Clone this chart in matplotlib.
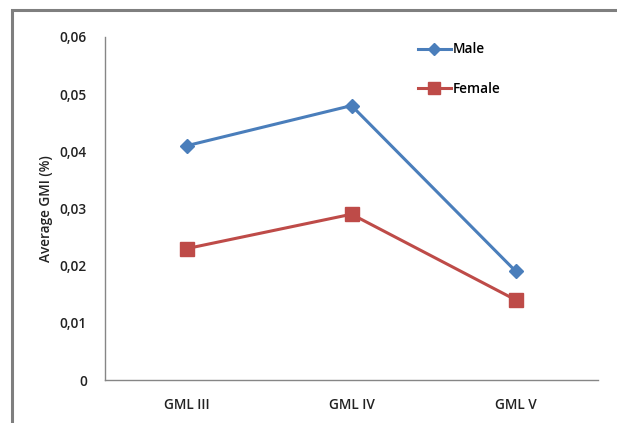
import matplotlib
matplotlib.use("Agg")
import matplotlib.pyplot as plt
from matplotlib.patches import Rectangle

categories = ["GML III", "GML IV", "GML V"]
male = [0.041, 0.048, 0.019]
female = [0.023, 0.029, 0.014]
yticks = [0, 0.01, 0.02, 0.03, 0.04, 0.05, 0.06]
yticklabels = ["0", "0,01", "0,02", "0,03", "0,04", "0,05", "0,06"]

plt.rcParams['font.family'] = ['Open Sans', 'DejaVu Sans']

W, H = 617, 423
fig = plt.figure(figsize=(W/100, H/100), dpi=100)
fig.patch.set_facecolor('white')

# outer frame (left and top visible)
fig.patches.append(Rectangle((12/W, -0.1), 1.2, 1 - 10/H + 0.1, transform=fig.transFigure,
                             fill=False, edgecolor='#7f7f7f', linewidth=2.2))

left, right, top, bottom = 105, 598, 37, 380
ax = fig.add_axes([left/W, 1 - bottom/H, (right-left)/W, (bottom-top)/H])
x = list(range(1, len(categories) + 1))
ax.plot(x, male, color='#4A7EBB', lw=2.2, marker='D', ms=7, label='Male')
ax.plot(x, female, color='#BE4B48', lw=2.2, marker='s', ms=9.5, label='Female')
ax.set_xlim(0.5, 3.5)
ax.set_ylim(0, 0.06)
ax.set_yticks(yticks)
ax.set_yticklabels(yticklabels)
ax.set_xticks(x)
ax.set_xticklabels(categories)
for s in ['top', 'right']:
    ax.spines[s].set_visible(False)
for s in ['left', 'bottom']:
    ax.spines[s].set_color('#868686')
    ax.spines[s].set_linewidth(1)
fs = 9.8
ax.tick_params(axis='both', length=0, labelsize=fs, colors='#222222')
ax.tick_params(axis='y', pad=13)
ax.tick_params(axis='x', pad=13)
for t in ax.get_xticklabels() + ax.get_yticklabels():
    t.set_fontweight('semibold')
ax.set_ylabel('Average GMI (%)', fontsize=fs, fontweight='semibold', color='#222222', labelpad=5)
leg = ax.legend(loc='upper left', bbox_to_anchor=(0.61, 1.02), frameon=False, fontsize=fs,
                handlelength=2.4, handletextpad=0.15, labelspacing=1.9, markerscale=0.85)
for t in leg.get_texts():
    t.set_fontweight('semibold')
fig.savefig('out.png', dpi=100)
